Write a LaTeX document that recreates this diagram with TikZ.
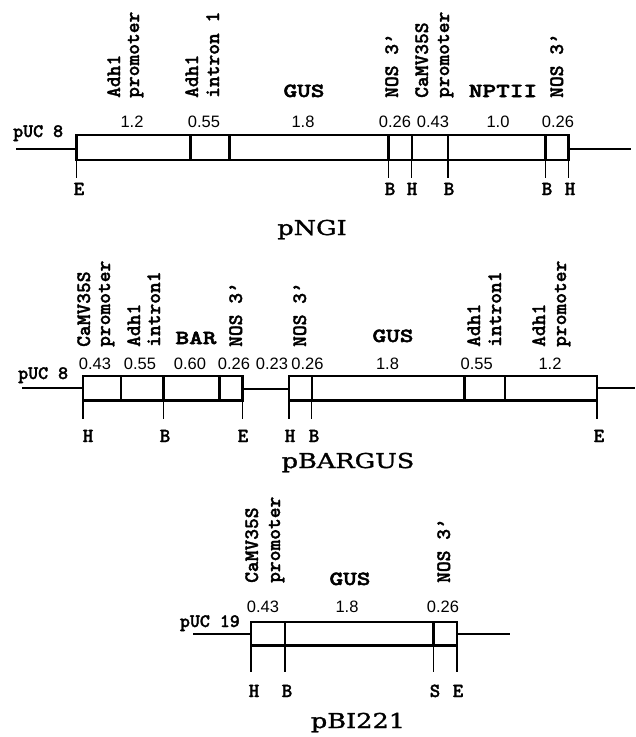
\documentclass[tikz,border=0pt]{standalone}
\usepackage{fontspec}
\newfontfamily\lblfont{lmmonolt10-bold.otf}[FakeBold=1.6]
\newfontfamily\genefont{lmmonolt10-bold.otf}[FakeStretch=1.3, FakeBold=2.6]
\newfontfamily\numfont{Liberation Sans}
\newfontfamily\titlefont{DejaVu Serif}[FakeStretch=1.25, FakeBold=1.4]
\tikzset{
  lbl/.style={font=\lblfont\fontsize{20.5}{22}\selectfont, rotate=90, anchor=base west, inner sep=0pt},
  gene/.style={font=\genefont\fontsize{20}{22}\selectfont, anchor=base, inner sep=0pt},
  num/.style={font=\numfont\fontsize{16.5}{18}\selectfont, anchor=base, inner sep=0pt},
  site/.style={font=\lblfont\fontsize{20}{22}\selectfont, anchor=base, inner sep=0pt},
  ttl/.style={font=\titlefont\fontsize{20.5}{24}\selectfont, anchor=base, inner sep=0pt},
  puc/.style={font=\lblfont\fontsize{19}{21}\selectfont, inner sep=0pt},
  dna/.style={line width=2.8pt},
  box/.style={line width=2.6pt},
  div/.style={line width=2.4pt},
  tick/.style={line width=1.2pt}
}
\begin{document}
\begin{tikzpicture}[x=1pt,y=-1pt]
\useasboundingbox (0,0) rectangle (636,737);
% ================= pNGI =================
\node[puc, anchor=base west] (puc1) at (13,137) {pUC 8};
\draw[dna] (16,149) -- (76.5,149);
\draw[box] (76.5,135) rectangle (568.7,160);
\draw[dna] (568.7,149) -- (631,149);
\draw[div, line width=3pt] (190,135) -- (190,160);
\foreach \x in {229.6,388.6,411.8,447.9,545.6} \draw[div] (\x,135) -- (\x,160);
\foreach \x in {76.5,388.6,411.8,447.9,545.6,568.7} \draw[tick] (\x,160) -- (\x,178);
\node[site] (e1) at (79,195) {E};
\node[site] (b1) at (390,195) {B};
\node[site] (h1) at (412,195) {H};
\node[site] (b2) at (449,195) {B};
\node[site] (b3) at (547,195) {B};
\node[site] (h2) at (570,195) {H};
\node[ttl] (t1) at (312,235) {pNGI};
% numbers
\node[num] (n11) at (132,127) {1.2};
\node[num] (n12) at (204,127) {0.55};
\node[num] (n13) at (303,127) {1.8};
\node[num] (n14) at (395,127) {0.26};
\node[num] (n15) at (433,127) {0.43};
\node[num] (n16) at (498,127) {1.0};
\node[num] (n17) at (558,127) {0.26};
% labels
\node[lbl] (l11) at (120,98) {Adh1};
\node[lbl] (l12) at (139,98) {promoter};
\node[lbl] (l13) at (198,98) {Adh1};
\node[lbl] (l14) at (219,98) {intron 1};
\node[gene] (g11) at (304,97) {GUS};
\node[lbl] (l15) at (398,98) {NOS 3’};
\node[lbl] (l16) at (428,98) {CaMV35S};
\node[lbl] (l17) at (449,98) {promoter};
\node[gene] (g12) at (503,97) {NPTII};
\node[lbl] (l18) at (563,98) {NOS 3’};
% ================= pBARGUS =================
\node[puc, anchor=base west] (puc2) at (18,379) {pUC 8};
\draw[dna] (22,388) -- (83,388);
\draw[box] (83,376) rectangle (242.7,400.5);
\foreach \x in {120.8,163.3,219.3} \draw[div] (\x,376) -- (\x,400.5);
\draw[dna] (242.7,389) -- (289,389);
\draw[box] (289,376) rectangle (597,400.5);
\foreach \x in {311.7,464.5,505} \draw[div] (\x,376) -- (\x,400.5);
\draw[dna] (597,388) -- (635,388);
\foreach \x in {83,163.3,242.7,289,311.7,597} \draw[tick] (\x,400.5) -- (\x,419);
\node[site] (h3) at (88,442) {H};
\node[site] (b4) at (165,442) {B};
\node[site] (e2) at (243,442) {E};
\node[site] (h4) at (290,442) {H};
\node[site] (b5) at (314,442) {B};
\node[site] (e3) at (599,442) {E};
\node[ttl] (t2) at (348,468) {pBARGUS};
\node[num] (n21) at (95,369) {0.43};
\node[num] (n22) at (140,369) {0.55};
\node[num] (n23) at (190,369) {0.60};
\node[num] (n24) at (234,369) {0.26};
\node[num] (n25) at (272,369) {0.23};
\node[num] (n26) at (307.5,369) {0.26};
\node[num] (n27) at (387.5,369) {1.8};
\node[num] (n28) at (476.7,369) {0.55};
\node[num] (n29) at (550,369) {1.2};
\node[lbl] (l21) at (90,347) {CaMV35S};
\node[lbl] (l22) at (110,347) {promoter};
\node[lbl] (l23) at (140,347) {Adh1};
\node[lbl] (l24) at (160,347) {intron1};
\node[gene] (g21) at (196,344) {BAR};
\node[lbl] (l25) at (242,347) {NOS 3’};
\node[lbl] (l26) at (306,347) {NOS 3’};
\node[gene] (g22) at (393,342) {GUS};
\node[lbl] (l27) at (480,347) {Adh1};
\node[lbl] (l28) at (501,347) {intron1};
\node[lbl] (l29) at (545,347) {Adh1};
\node[lbl] (l30) at (566,347) {promoter};
% ================= pBI221 =================
\node[puc, anchor=base east] (puc3) at (240,627) {pUC 19};
\draw[dna] (193,634) -- (251,634);
\draw[box] (251,622) rectangle (457,645.5);
\foreach \x in {285,433.3} \draw[div] (\x,622) -- (\x,645.5);
\draw[dna] (457,634) -- (510,634);
\foreach \x in {251,285,433.3,457} \draw[tick] (\x,645.5) -- (\x,672);
\node[site] (h5) at (254,697) {H};
\node[site] (b6) at (287,697) {B};
\node[site] (s1) at (435,697) {S};
\node[site] (e4) at (458,697) {E};
\node[ttl] (t3) at (358,728) {pBI221};
\node[num] (n31) at (263,612) {0.43};
\node[num] (n32) at (347,612) {1.8};
\node[num] (n33) at (443,612) {0.26};
\node[lbl] (l31) at (258,583) {CaMV35S};
\node[lbl] (l32) at (280,583) {promoter};
\node[gene] (g31) at (350,585) {GUS};
\node[lbl] (l33) at (450,583) {NOS 3’};
\end{tikzpicture}
\end{document}
